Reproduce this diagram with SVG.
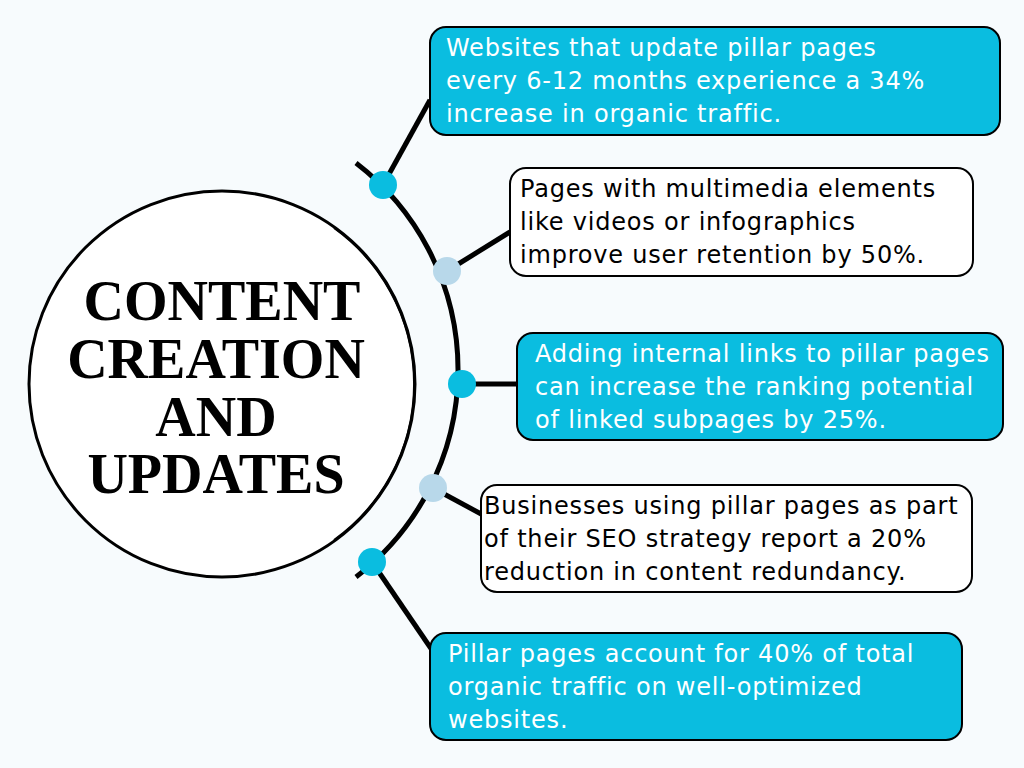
<svg xmlns="http://www.w3.org/2000/svg" width="1024" height="768" viewBox="0 0 1024 768">
<style>
.c{fill:#0abde0;stroke:#000;stroke-width:2}
.w{fill:#fff;stroke:#000;stroke-width:2}
.t{font-family:"DejaVu Sans",sans-serif;font-size:24px;letter-spacing:0.8px}
.tw{fill:#fff}.tb{fill:#000}
.h{font-family:"Liberation Serif",serif;font-size:56px;font-weight:bold;text-anchor:middle;fill:#000}
.l{stroke:#000;stroke-width:5;fill:none}
</style>
<rect width="1024" height="768" fill="#f7fbfd"/>
<g id="hub">
<circle cx="222" cy="384" r="193" fill="#fff" stroke="#000" stroke-width="3"/>
<path d="M330 228 A192 192 0 0 1 330 540" fill="none" stroke="#000" stroke-width="2" transform="translate(4,0)"/>
<text class="h" x="222" y="320">CONTENT</text>
<text class="h" x="216" y="378">CREATION</text>
<text class="h" x="216" y="436">AND</text>
<text class="h" x="216" y="493">UPDATES</text>
</g>
<g id="connectors">
<path class="l" d="M356 163 A261 261 0 0 1 356 577"/>
<line class="l" x1="383" y1="185" x2="430" y2="100"/>
<line class="l" x1="447" y1="271" x2="510" y2="232"/>
<line class="l" x1="462" y1="384" x2="517" y2="384"/>
<line class="l" x1="433" y1="488" x2="483" y2="515"/>
<line class="l" x1="372" y1="562" x2="432" y2="650"/>
<circle cx="383" cy="185" r="14" fill="#0abde0"/>
<circle cx="447" cy="271" r="14" fill="#b8d8ea"/>
<circle cx="462" cy="384" r="14" fill="#0abde0"/>
<circle cx="433" cy="488" r="14" fill="#b8d8ea"/>
<circle cx="372" cy="562" r="14" fill="#0abde0"/>
</g>
<g id="n1"><rect class="c" x="430" y="27" width="570" height="108" rx="16"/>
<text class="t tw" x="446" y="56">Websites that update pillar pages</text><text class="t tw" x="446" y="89">every 6-12 months experience a 34%</text><text class="t tw" x="446" y="122">increase in organic traffic.</text></g>
<g id="n2"><rect class="w" x="510" y="168" width="463" height="108" rx="16"/>
<text class="t tb" x="520" y="197">Pages with multimedia elements</text><text class="t tb" x="520" y="230">like videos or infographics</text><text class="t tb" x="520" y="263">improve user retention by 50%.</text></g>
<g id="n3"><rect class="c" x="517" y="333" width="486" height="107" rx="16"/>
<text class="t tw" x="535" y="362">Adding internal links to pillar pages</text><text class="t tw" x="535" y="395">can increase the ranking potential</text><text class="t tw" x="535" y="428">of linked subpages by 25%.</text></g>
<g id="n4"><rect class="w" x="481" y="485" width="491" height="107" rx="16"/>
<text class="t tb" x="484" y="514">Businesses using pillar pages as part</text><text class="t tb" x="484" y="547">of their SEO strategy report a 20%</text><text class="t tb" x="484" y="580">reduction in content redundancy.</text></g>
<g id="n5"><rect class="c" x="430" y="633" width="532" height="107" rx="16"/>
<text class="t tw" x="448" y="662">Pillar pages account for 40% of total</text><text class="t tw" x="448" y="695">organic traffic on well-optimized</text><text class="t tw" x="448" y="728">websites.</text></g>
</svg>
